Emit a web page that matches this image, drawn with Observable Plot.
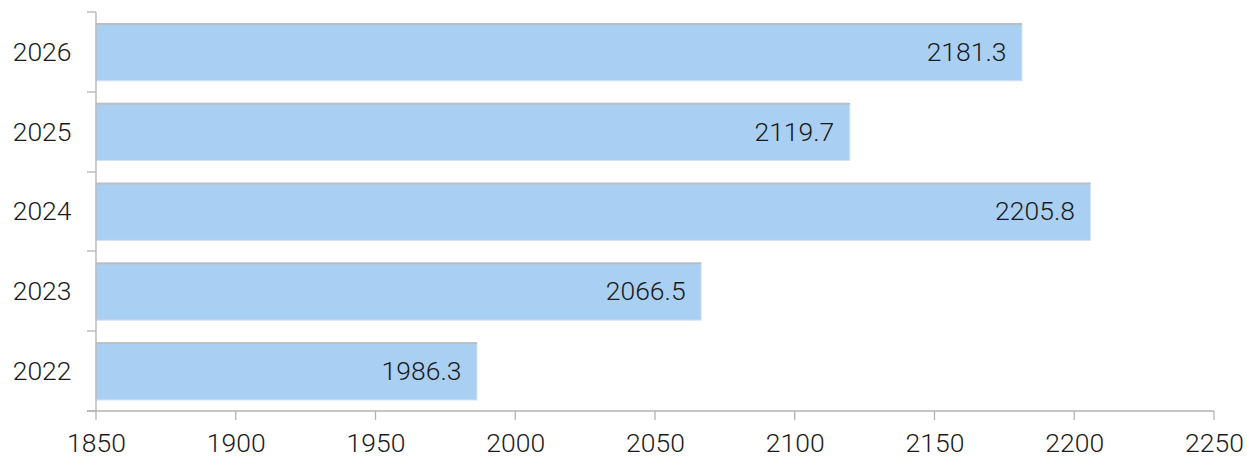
<!DOCTYPE html>
<html>
<head>
<meta charset="utf-8">
<script src="https://cdn.jsdelivr.net/npm/d3@7"></script>
<script src="https://cdn.jsdelivr.net/npm/@observablehq/plot@0.6"></script>
<style>
  html, body { margin: 0; padding: 0; background: #fff; }
  svg { display: block; overflow: visible; }
</style>
</head>
<body>
<div id="chart"></div>
<script>
const years = ["2026", "2025", "2024", "2023", "2022"];
const values = [2181.3, 2119.7, 2205.8, 2066.5, 1986.3];
const xTicks = [1850, 1900, 1950, 2000, 2050, 2100, 2150, 2200, 2250];

const data = years.map((y, i) => ({year: y, value: values[i]}));

const axisColor = "#b3b3b3";
const font = "Roboto, sans-serif";
const fs = 26.5;

// custom mark: band boundary ticks on the y axis + axis lines
function axisLines(index, scales, values, dimensions) {
  const {marginLeft, marginTop, marginBottom, height, width, marginRight} = dimensions;
  const g = d3.create("svg:g").attr("stroke", axisColor).attr("stroke-width", 1.3).attr("fill", "none");
  const y = scales.y;
  const bw = y.bandwidth();
  const bounds = new Set();
  years.forEach(v => { bounds.add(Math.round(y(v))); bounds.add(Math.round(y(v) + bw)); });
  for (const b of bounds) {
    g.append("line").attr("x1", marginLeft - 9).attr("x2", marginLeft).attr("y1", b).attr("y2", b);
  }
  const x = scales.x;
  g.append("line").attr("x1", marginLeft).attr("x2", marginLeft).attr("y1", marginTop).attr("y2", height - marginBottom);
  g.append("line").attr("x1", marginLeft - 9).attr("x2", width - marginRight).attr("y1", height - marginBottom).attr("y2", height - marginBottom);
  for (const t of xTicks) {
    g.append("line").attr("x1", x(t)).attr("x2", x(t)).attr("y1", height - marginBottom).attr("y2", height - marginBottom + 9);
  }
  return g.node();
}

const chart = Plot.plot({
  width: 1247,
  height: 457,
  marginLeft: 96,
  marginRight: 33,
  marginTop: 12,
  marginBottom: 46,
  style: {fontFamily: font, fontSize: fs + "px", fontWeight: 300, color: "#222", background: "#fff"},
  x: {domain: [1850, 2250], ticks: xTicks, label: null},
  y: {domain: years, padding: 0, round: false, label: null},
  marks: [
    Plot.barX(data, {x1: 1850, x2: "value", y: "year", insetTop: 11.5, insetBottom: 11, fill: "#a9cff3", stroke: "#d2e3f4", strokeWidth: 1}),
    Plot.barX(data, {x1: 1850, x2: "value", y: "year", insetTop: 11, insetBottom: 67, fill: "#bdbdbd"}),
    Plot.text(data, {x: "value", y: "year", text: d => d.value.toFixed(1), textAnchor: "end", dx: -16, fill: "#1a1a1a", fontSize: fs, fontWeight: 300}),
    Plot.axisY({tickSize: 0, tickPadding: 25, fontSize: fs, fontWeight: 300, fill: "#1a1a1a"}),
    Plot.axisX({ticks: xTicks, tickSize: 0, tickPadding: 22, tickFormat: d => String(d), fontSize: fs, fontWeight: 300, fill: "#1a1a1a", anchor: "bottom"}),
    axisLines
  ]
});
document.getElementById("chart").appendChild(chart);
</script>
</body>
</html>
